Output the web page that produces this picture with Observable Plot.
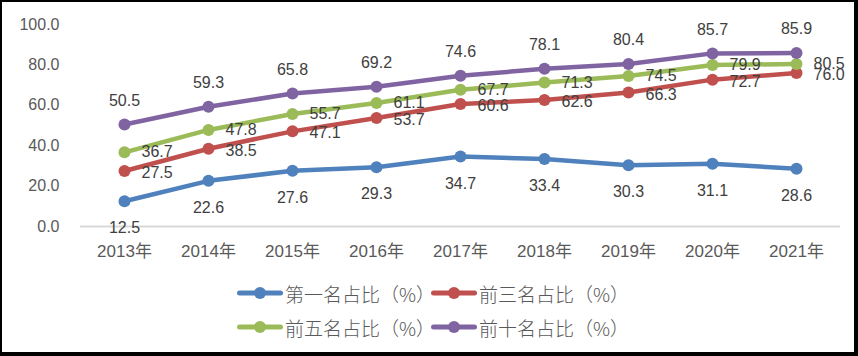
<!DOCTYPE html>
<html>
<head>
<meta charset="utf-8">
<script src="https://cdn.jsdelivr.net/npm/d3@7"></script>
<script src="https://cdn.jsdelivr.net/npm/@observablehq/plot@0.6"></script>
<style>
  html, body { margin: 0; padding: 0; background: #fff; }
  #frame {
    position: relative; width: 858px; height: 356px; box-sizing: border-box;
    border-top: 2px solid #000; border-left: 2px solid #000;
    border-right: 4px solid #000; border-bottom: 4px solid #000;
    background: #fff; overflow: hidden;
    font-family: "Liberation Sans", "Noto Sans CJK SC", sans-serif;
  }
  #chart { position: absolute; left: 0; top: 0; }
  .leg { position: absolute; display: flex; align-items: center; height: 24px;
         font-size: 19px; font-weight: 300; color: #595959; font-family: "Noto Sans CJK SC", sans-serif; white-space: nowrap; }
  .leg svg { margin-right: 2px; }
</style>
</head>
<body>
<div id="frame"><div id="chart"></div></div>
<script>
const years = ["2013年","2014年","2015年","2016年","2017年","2018年","2019年","2020年","2021年"];
const seriesNames = ["第一名占比（%）","前三名占比（%）","前五名占比（%）","前十名占比（%）"];
const seriesColors = ["#4F81BD","#C0504D","#9BBB59","#8064A2"];
const first = [12.5,22.6,27.6,29.3,34.7,33.4,30.3,31.1,28.6];
const top3  = [27.5,38.5,47.1,53.7,60.6,62.6,66.3,72.7,76.0];
const top5  = [36.7,47.8,55.7,61.1,67.7,71.3,74.5,79.9,80.5];
const top10 = [50.5,59.3,65.8,69.2,74.6,78.1,80.4,85.7,85.9];
const yTicks = [0,20,40,60,80,100];

const allValues = [first, top3, top5, top10];
const data = [];
allValues.forEach((vals, si) => vals.forEach((v, i) => data.push({year: years[i], value: v, series: seriesNames[si]})));
const bySeries = s => data.filter(d => d.series === s);

const color = {domain: seriesNames, range: seriesColors};
const fmt = d3.format(".1f");

const marks = [
  Plot.ruleY([0], {stroke: "#d9d9d9", strokeWidth: 2})
];
seriesNames.forEach(s => {
  marks.push(Plot.line(bySeries(s), {x: "year", y: "value", stroke: "series", strokeWidth: 4.5}));
  marks.push(Plot.dot(bySeries(s), {x: "year", y: "value", fill: "series", r: 6}));
});
// labels
const labelStyle = {fill: "#404040", fontSize: 16, text: d => fmt(d.value)};
marks.push(Plot.text(bySeries(seriesNames[0]), {x: "year", y: "value", dy: 27, ...labelStyle}));
marks.push(Plot.text(bySeries(seriesNames[1]), {x: "year", y: "value", dx: 17, dy: 2, textAnchor: "start", ...labelStyle}));
marks.push(Plot.text(bySeries(seriesNames[2]), {x: "year", y: "value", dx: 17, dy: 0, textAnchor: "start", ...labelStyle}));
marks.push(Plot.text(bySeries(seriesNames[3]), {x: "year", y: "value", dy: -24, ...labelStyle}));

const plot = Plot.plot({
  width: 852, height: 270,
  marginLeft: 78, marginRight: 14, marginTop: 22, marginBottom: 46,
  style: {fontFamily: '"Liberation Sans", "Noto Sans CJK SC", sans-serif', fontSize: "16px", background: "transparent", overflow: "visible"},
  x: {type: "point", domain: years, padding: 0.5, label: null, tickSize: 0, tickPadding: 20},
  y: {domain: [0, 100], ticks: yTicks, tickFormat: fmt, label: null, tickSize: 0, tickPadding: 21},
  color,
  marks: [
    Plot.axisX({tickSize: 0, tickPadding: 18, fill: "#595959", fontSize: 17}),
    Plot.axisY(yTicks, {tickSize: 0, tickPadding: 21, tickFormat: fmt, fill: "#595959", fontSize: 16, label: null}),
    ...marks
  ]
});
document.getElementById("chart").appendChild(plot);

// legend
const frame = document.getElementById("frame");
const legPos = [[235, 279], [429, 279], [235, 313], [429, 313]];
seriesNames.forEach((s, i) => {
  const div = document.createElement("div");
  div.className = "leg";
  div.style.left = legPos[i][0] + "px";
  div.style.top = legPos[i][1] + "px";
  div.innerHTML = `<svg width="46" height="14"><line x1="2.5" y1="7" x2="43.5" y2="7" stroke="${seriesColors[i]}" stroke-width="5" stroke-linecap="round"/><circle cx="23" cy="7" r="6" fill="${seriesColors[i]}"/></svg><span>${s}</span>`;
  frame.appendChild(div);
});
</script>
</body>
</html>
